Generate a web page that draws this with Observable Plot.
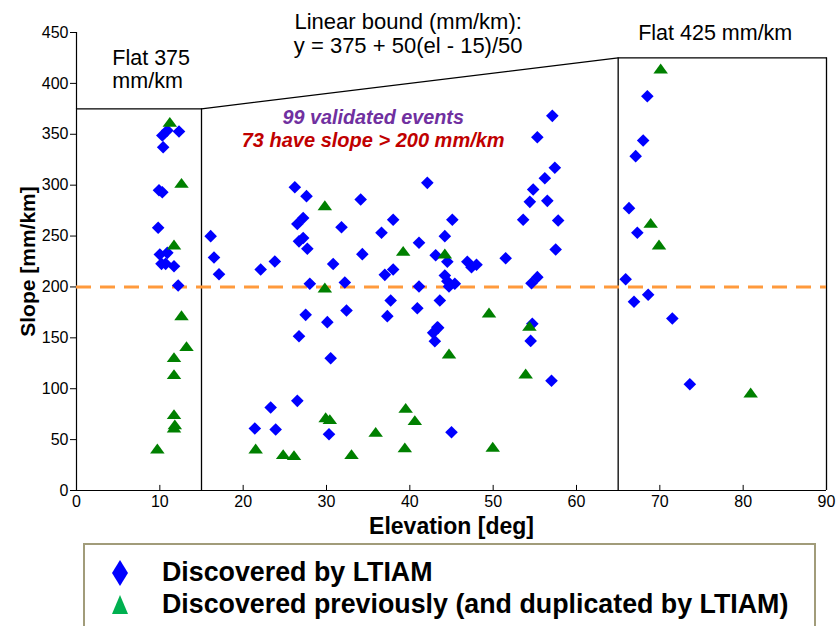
<!DOCTYPE html>
<html>
<head>
<meta charset="utf-8">
<script src="https://cdn.jsdelivr.net/npm/d3@7"></script>
<script src="https://cdn.jsdelivr.net/npm/@observablehq/plot@0.6"></script>
<style>
  html, body { margin: 0; padding: 0; background: #fff; }
  body { font-family: "Liberation Sans", Arial, sans-serif; }
  #wrap { position: relative; width: 839px; height: 626px; overflow: hidden; }
  #legend { position: absolute; left: 83px; top: 543px; width: 733px; height: 110px;
            border: 2px solid #a19c7a; box-sizing: border-box; background: #fff; }
  .item { position: absolute; left: 0; height: 32px; width: 725px; }
  .item svg { position: absolute; left: 20px; top: 0; }
  .item span { position: absolute; left: 77px; top: 0px; font-weight: bold; font-size: 26.8px;
               line-height: 30px; color: #000; white-space: nowrap; }
</style>
</head>
<body>
<div id="wrap">
  <div id="chart"></div>
  <div id="legend">
    <div class="item" style="top:12px">
      <svg width="30" height="32"><path d="M15,3 L23,16 L15,29 L7,16 Z" fill="#0000ff"/></svg>
      <span id="lg1"></span>
    </div>
    <div class="item" style="top:44px">
      <svg width="30" height="32"><path d="M15,6 L23,25 L7,25 Z" fill="#00b050"/></svg>
      <span id="lg2"></span>
    </div>
  </div>
</div>
<script>
// ---- data ----
const ltiamX = [10.3,10.9,12.3,10.4,9.9,10.3,9.8,10.0,10.9,10.2,10.7,11.7,12.2,
  16.1,16.5,17.1,22.1,23.8,26.2,27.6,27.2,26.5,27.2,26.7,27.7,30.8,28.0,31.8,34.1,34.3,32.2,27.5,30.1,32.4,
  26.7,30.5,26.5,23.3,21.4,23.9,30.3,
  42.1,38.0,36.6,45.1,44.2,41.1,43.1,44.5,37.0,38.0,46.9,47.4,48.0,51.5,44.2,44.5,44.7,45.4,41.1,37.7,37.3,40.9,43.6,43.3,
  57.4,56.2,54.8,54.4,56.5,53.6,57.8,57.5,55.3,54.6,54.7,
  43.4,42.8,43.0,54.5,57.0,45.0,
  57.1,55.3,
  68.5,68.0,67.1,66.3,67.3,
  65.9,66.9,68.6,71.5,73.6];
const ltiamY = [348.8,353.7,352.7,337.3,295,293,258.1,231.9,233.5,222.7,222.7,220.4,201.4,
  249.9,228.9,212.5,217.1,225,298,289.2,267.8,261.9,248.1,244.8,237.6,222.6,203.1,258.7,285.9,232.2,204.4,172.6,165.4,176.9,
  151.6,130,88.1,81.6,60.9,59.9,55.3,
  302.3,266,253.2,266,249.9,243.4,231.2,224.7,211.9,217.1,224.7,219.4,221.8,228.2,211.2,205.6,200.4,203.1,200.4,186.7,171.3,179.1,186.7,160.4,
  317.1,306.8,295.7,283.6,284.6,266,265.3,236.8,209.6,203.7,163.8,
  159.8,154.9,146.7,147,107.8,57.3,
  368.1,347.1,
  387.4,343.9,328.5,277.4,253.2,
  207.6,185.4,192.3,169,104.4];
const prevX = [11.2,12.6,11.7,12.6,13.2,11.7,11.7,11.7,11.8,11.7,9.7,
  29.8,29.8,29.9,30.4,21.5,24.8,26.1,33.0,35.9,
  39.2,44.2,49.5,54.35,44.7,53.9,39.5,40.6,39.4,49.95,
  70.1,68.9,69.9,80.9];
const prevY = [361.9,301.9,241.4,171.9,141.5,130.7,114.0,74.7,64.6,61.6,41.0,
  280.0,199.2,71.7,69.8,41.0,35.4,34.4,35.4,57.3,
  235.1,232.6,174.6,161.4,134.3,114.7,80.9,68.8,42.0,42.6,
  414.3,262.6,241.4,96];
const boundX = [0, 15, 65, 90];
const boundY = [375, 375, 425, 425];
const threshold = 200;
const xTicks = [0,10,20,30,40,50,60,70,80,90];
const yTicks = [0,50,100,150,200,250,300,350,400,450];
const noteBound = [
  {x: 39.8, y: 460.0, t: "Linear bound (mm/km):"},
  {x: 39.8, y: 437.0, t: "y = 375 + 50(el - 15)/50"}
];
const noteFlat = [
  {x: 4.3, y: 425.0, t: "Flat 375"},
  {x: 4.3, y: 402.0, t: "mm/km"},
  {x: 67.4, y: 449.0, t: "Flat 425 mm/km"}
];
const noteCount = {x: 35.6, y1: 366.5, y2: 344.0,
  t1: "99 validated events", t2: "73 have slope > 200 mm/km"};
const legendLabels = ["Discovered by LTIAM", "Discovered previously (and duplicated by LTIAM)"];

// ---- build ----
const ltiam = ltiamX.map((x, i) => ({x, y: ltiamY[i]}));
const prev = prevX.map((x, i) => ({x, y: prevY[i]}));
const bound = boundX.map((x, i) => ({x, y: boundY[i]}));
const vertLines = bound.slice(1);

const diamond = { draw(ctx, size) { const r = Math.sqrt(size / Math.PI);
  ctx.moveTo(0, -r); ctx.lineTo(r, 0); ctx.lineTo(0, r); ctx.lineTo(-r, 0); ctx.closePath(); } };
const triangle = { draw(ctx, size) { const r = Math.sqrt(size / Math.PI);
  ctx.moveTo(0, -0.8 * r); ctx.lineTo(1.1 * r, 0.7 * r); ctx.lineTo(-1.1 * r, 0.7 * r); ctx.closePath(); } };

const chart = Plot.plot({
  width: 839, height: 540,
  marginLeft: 76, marginRight: 13, marginTop: 32, marginBottom: 50,
  x: {domain: [0, 90]},
  y: {domain: [0, 450]},
  style: {fontFamily: "Liberation Sans, Arial, sans-serif", fontSize: "16px", color: "#000", background: "#fff", overflow: "visible"},
  marks: [
    Plot.ruleX([0], {stroke: "#000", strokeWidth: 1.2}),
    Plot.ruleY([0], {stroke: "#000", strokeWidth: 1.2}),
    Plot.axisY({ticks: yTicks, tickSize: 6, tickPadding: 2, label: null, fontSize: 16, stroke: "#000"}),
    Plot.axisX({ticks: xTicks, tickSize: 0, tickPadding: 5, label: null, fontSize: 16}),
    Plot.ruleX(xTicks.slice(1, -1), {x: d => d, y1: 0, y2: 5, stroke: "#000", strokeWidth: 1}),
    Plot.line(bound, {x: "x", y: "y", stroke: "#000", strokeWidth: 1.3}),
    Plot.ruleX(vertLines, {x: "x", y1: 0, y2: "y", stroke: "#000", strokeWidth: 1.3}),
    Plot.ruleY([threshold], {stroke: "#ff9a3c", strokeWidth: 3, strokeDasharray: "15,9"}),
    Plot.dot(ltiam, {x: "x", y: "y", symbol: diamond, r: 6.3, fill: "#0000ff", stroke: "none"}),
    Plot.dot(prev, {x: "x", y: "y", symbol: triangle, r: 6.6, fill: "#008000", stroke: "none"}),
    Plot.text(noteBound, {x: "x", y: "y", text: "t", fontSize: 22, textAnchor: "middle", fill: "#000"}),
    Plot.text(noteFlat, {x: "x", y: "y", text: "t", fontSize: 21.5, textAnchor: "start", fill: "#000"}),
    Plot.text([noteCount], {x: "x", y: "y1", text: "t1", fontSize: 19.8, fontWeight: "bold", fontStyle: "italic", fill: "#7030a0", textAnchor: "middle"}),
    Plot.text([noteCount], {x: "x", y: "y2", text: "t2", fontSize: 20, fontWeight: "bold", fontStyle: "italic", fill: "#c00000", textAnchor: "middle"}),
    Plot.text(["Elevation [deg]"], {frameAnchor: "bottom", dy: 36, lineAnchor: "middle", textAnchor: "middle", fontSize: 23, fontWeight: "bold", fill: "#000"}),
    Plot.text(["Slope [mm/km]"], {frameAnchor: "left", dx: -48, rotate: -90, lineAnchor: "middle", textAnchor: "middle", fontSize: 21, fontWeight: "bold", fill: "#000"})
  ]
});
document.getElementById("chart").appendChild(chart);
document.getElementById("lg1").textContent = legendLabels[0];
document.getElementById("lg2").textContent = legendLabels[1];
</script>
</body>
</html>
